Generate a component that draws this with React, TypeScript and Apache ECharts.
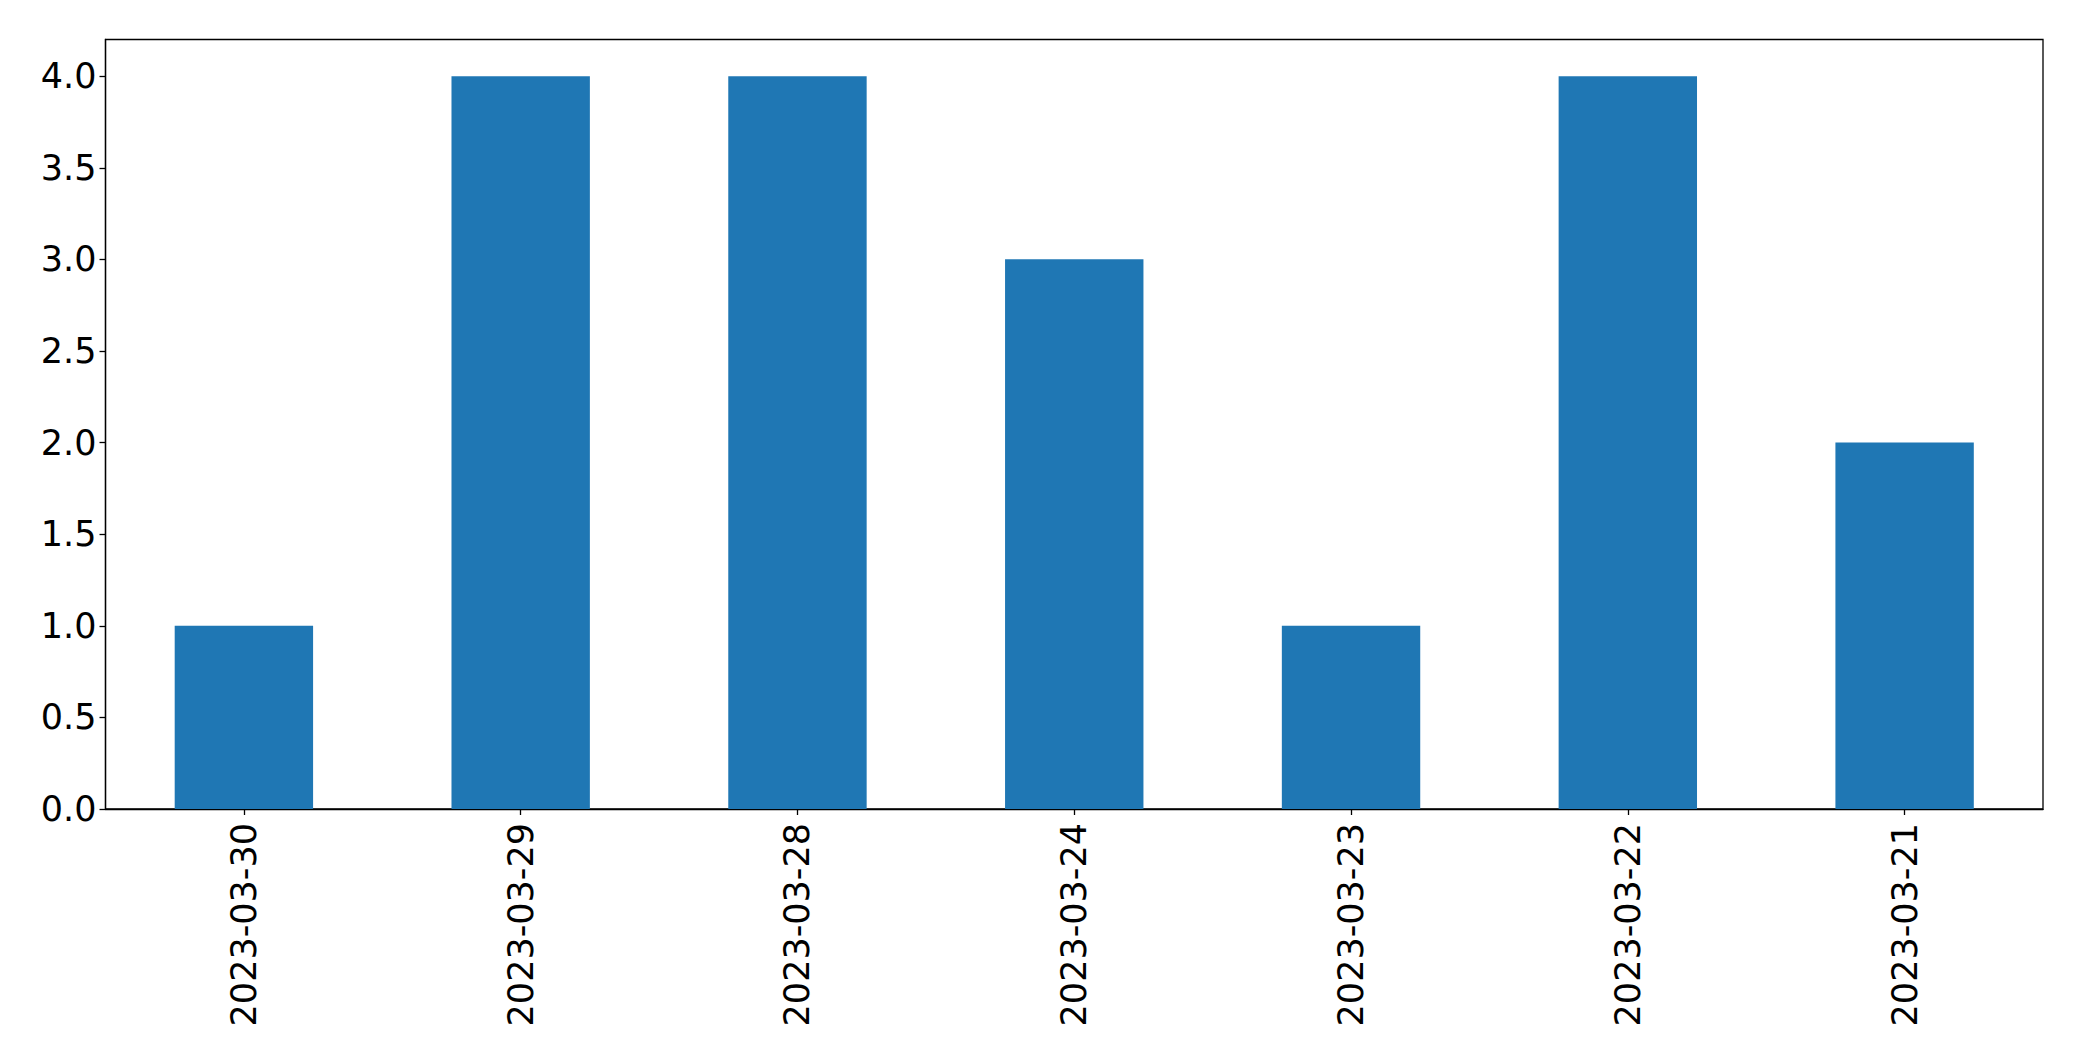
import React, { useEffect, useRef } from "react";
import * as echarts from "echarts";

const categories = ["2023-03-30", "2023-03-29", "2023-03-28", "2023-03-24", "2023-03-23", "2023-03-22", "2023-03-21"];
const values = [1, 4, 4, 3, 1, 4, 2];
const yTicks = [0, 0.5, 1, 1.5, 2, 2.5, 3, 3.5, 4];

export default function App() {
  const ref = useRef<HTMLDivElement>(null);
  useEffect(() => {
    document.body.style.margin = "0";
    const chart = echarts.init(ref.current!, null, { renderer: "svg" });
    const font = { fontFamily: "DejaVu Sans", fontSize: 35, color: "#000" };
    chart.setOption({
      animation: false,
      backgroundColor: "#fff",
      grid: {
        left: 105.5,
        right: 39,
        top: 39.5,
        bottom: 252,
        containLabel: false,
        outerBoundsMode: "none",
        show: true,
        borderColor: "#000",
        borderWidth: 1.3,
        backgroundColor: "transparent",
      },
      xAxis: {
        type: "category",
        data: categories,
        boundaryGap: true,
        axisLine: { show: true, lineStyle: { color: "#000", width: 1.3 } },
        axisTick: { show: true, alignWithLabel: true, length: 6, lineStyle: { color: "#000", width: 1.3 } },
        axisLabel: { ...font, rotate: 90, margin: 14, interval: 0 },
        splitLine: { show: false },
      },
      yAxis: {
        type: "value",
        min: 0,
        max: 4.2,
        interval: 0.5,
        axisLine: { show: true, lineStyle: { color: "#000", width: 1.3 } },
        axisTick: { show: true, length: 6, customValues: yTicks, lineStyle: { color: "#000", width: 1.3 } },
        axisLabel: {
          ...font,
          margin: 9,
          customValues: yTicks,
          formatter: (v: number) => v.toFixed(1),
        },
        splitLine: { show: false },
      },
      series: [
        {
          type: "bar",
          data: values,
          barWidth: "50%",
          itemStyle: { color: "#1f77b4" },
        },
      ],
    });
    return () => chart.dispose();
  }, []);
  return <div ref={ref} style={{ width: 2082, height: 1061 }} />;
}
